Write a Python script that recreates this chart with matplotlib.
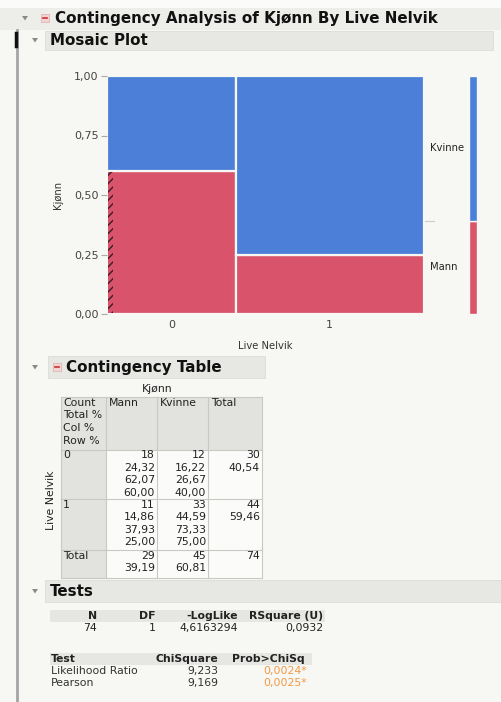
import numpy as np
import matplotlib
matplotlib.use("Agg")
import matplotlib.pyplot as plt
from matplotlib.patches import Rectangle, Polygon
from matplotlib.transforms import blended_transform_factory

plt.rcParams["font.family"] = ["DejaVu Sans"]

live_levels = ["0", "1"]
kjonn_levels = ["Mann", "Kvinne"]
counts_mann = [18, 11]
counts_kvinne = [12, 33]
y_ticks = [0.0, 0.25, 0.50, 0.75, 1.00]

tests_n = 74
tests_df = 1
tests_loglike = 4.6163294
tests_rsquare = 0.0932
test_names = ["Likelihood Ratio", "Pearson"]
test_chisq = [9.233, 9.169]
test_pvals = [0.0024, 0.0025]

BLUE = "#4b7fd8"
RED = "#d9536a"
BG = "#f7f7f4"
BAR = "#e7e7e3"
GRID = "#c9c9c4"
TXT = "#222222"
W, H = 501, 702
HFS = 10.9   # section headers
FS = 7.8     # table text
TFS = 8.0    # axis text


def fmt(v, d):
    return f"{v:.{d}f}".replace(".", ",")


def box(px0, py0, px1, py1):
    return [px0 / W, 1 - py1 / H, (px1 - px0) / W, (py1 - py0) / H]


fig = plt.figure(figsize=(W / 100, H / 100), dpi=100, facecolor=BG)
bg = fig.add_axes([0, 0, 1, 1])
bg.set_xlim(0, W)
bg.set_ylim(H, 0)
bg.axis("off")


def triangle(x, y):
    bg.add_patch(Polygon([(x - 3, y - 2), (x + 3, y - 2), (x, y + 2.5)],
                         closed=True, color="#8a8a8a", lw=0))


def redbox(x, y):
    bg.add_patch(Rectangle((x - 4, y - 4), 8, 8, facecolor="#f3d3d3",
                           edgecolor="#e0b5b5", lw=0.6))
    bg.plot([x - 2, x + 2], [y, y], color="#d03030", lw=1.2)


def header(x0, x1, y0, y1, text, tx, ty):
    bg.add_patch(Rectangle((x0, y0), x1 - x0, y1 - y0, facecolor=BAR,
                           edgecolor="#dcdcd8", lw=0.6))
    bg.text(tx, ty, text, fontsize=HFS, fontweight="bold", color="#111111",
            va="center", ha="left")


# frame pieces
bg.add_patch(Rectangle((0, 0), W, 8, facecolor="#fbfbfa", lw=0))
bg.add_patch(Rectangle((0, 8), W, 22, facecolor="#ededea", lw=0))
bg.plot([17, 17], [30, H], color="#a5a5a5", lw=2)
bg.plot([16, 16], [33, 46], color="#111111", lw=2.5)

triangle(25, 18)
redbox(45, 18)
bg.text(55, 18.5, "Contingency Analysis of Kjønn By Live Nelvik", fontsize=HFS,
        fontweight="bold", color="#111111", va="center", ha="left")

triangle(35, 40)
header(45, 493, 31, 50, "Mosaic Plot", 50, 40.5)

# --- mosaic plot ---
totals = np.array(counts_mann) + np.array(counts_kvinne)
col_w = totals / totals.sum()
col_x = np.concatenate([[0], np.cumsum(col_w)[:-1]])
mann_p = np.array(counts_mann) / totals

ax = fig.add_axes(box(107, 76, 424, 314))
ax.set_xlim(0, 1)
ax.set_ylim(0, 1)
ax.patch.set_visible(False)
ax.bar(col_x, mann_p, width=col_w, align="edge", color=RED,
       edgecolor=BG, lw=1.6)
ax.bar(col_x, 1 - mann_p, bottom=mann_p, width=col_w, align="edge",
       color=BLUE, edgecolor=BG, lw=1.6)
ax.add_patch(Rectangle((col_x[0] + 0.002, 0.003), 0.018, mann_p[0] - 0.006,
                       facecolor=RED, edgecolor="#3a1c26", hatch="////", lw=0))
for s in ax.spines.values():
    s.set_visible(False)
ax.set_yticks(y_ticks)
ax.set_yticklabels([fmt(t, 2) for t in y_ticks], fontsize=TFS, color="#444444")
ax.set_xticks(col_x + col_w / 2)
ax.set_xticklabels(live_levels, fontsize=TFS, color="#444444")
ax.tick_params(axis="both", length=4, color="#aaaaaa", pad=2)
ax.tick_params(axis="x", length=0, pad=4)
ax.set_ylabel("Kjønn", fontsize=7.2, color="#333333", labelpad=8)
ax.set_xlabel("Live Nelvik", fontsize=7.2, color="#333333", labelpad=8)

# marginal bar
marg_mann = sum(counts_mann) / totals.sum()
mx = fig.add_axes(box(469, 76, 477, 314))
mx.set_xlim(0, 1)
mx.set_ylim(0, 1)
mx.axis("off")
mx.bar([0], [marg_mann], width=1, align="edge", color=RED, edgecolor=BG, lw=1)
mx.bar([0], [1 - marg_mann], bottom=[marg_mann], width=1, align="edge",
       color=BLUE, edgecolor=BG, lw=1)
tr = blended_transform_factory(ax.transAxes, ax.transData)
ax.text(1.019, marg_mann / 2, kjonn_levels[0], transform=tr, fontsize=7.2,
        va="center", ha="left", color=TXT)
ax.text(1.019, marg_mann + (1 - marg_mann) / 2, kjonn_levels[1], transform=tr,
        fontsize=7.2, va="center", ha="left", color=TXT)
ax.plot([1.003, 1.03], [marg_mann, marg_mann], transform=tr, color="#cccccc",
        lw=0.8, clip_on=False)

# --- contingency table ---
triangle(35, 367)
bg.add_patch(Rectangle((48, 356), 217, 22, facecolor=BAR, edgecolor="#dcdcd8",
                       lw=0.6))
redbox(57, 367)
bg.text(66, 367.5, "Contingency Table", fontsize=HFS, fontweight="bold",
        color="#111111", va="center", ha="left")

cx = [61, 106, 157, 208, 262]
ry = [397, 450, 499, 550, 578]
bg.text((cx[1] + cx[3]) / 2, 389, "Kjønn", fontsize=FS, ha="center",
        va="center", color=TXT)
bg.text(51, (ry[1] + ry[3]) / 2, "Live Nelvik", fontsize=FS, rotation=90,
        ha="center", va="center", color=TXT)
# cell backgrounds
bg.add_patch(Rectangle((cx[0], ry[0]), cx[-1] - cx[0], ry[1] - ry[0],
                       facecolor="#e2e2de", lw=0))
bg.add_patch(Rectangle((cx[0], ry[1]), cx[1] - cx[0], ry[-1] - ry[1],
                       facecolor="#e2e2de", lw=0))
bg.add_patch(Rectangle((cx[1], ry[1]), cx[-1] - cx[1], ry[-1] - ry[1],
                       facecolor="#fbfbfa", lw=0))
for x in cx:
    bg.plot([x, x], [ry[0], ry[-1]], color=GRID, lw=0.8)
for y in ry:
    bg.plot([cx[0], cx[-1]], [y, y], color=GRID, lw=0.8)

lh = 12.5
for i, lab in enumerate(["Count", "Total %", "Col %", "Row %"]):
    bg.text(cx[0] + 2, ry[0] + 6 + i * lh, lab, fontsize=FS, va="center",
            color=TXT)
for j, lab in enumerate(kjonn_levels + ["Total"]):
    bg.text(cx[j + 1] + 3, ry[0] + 6, lab, fontsize=FS, va="center", color=TXT)

n_all = totals.sum()
rows = [[counts_mann[i], counts_kvinne[i]] for i in range(2)]
col_tot = [sum(counts_mann), sum(counts_kvinne)]
for i, lev in enumerate(live_levels):
    y0 = ry[i + 1] + 5.5
    bg.text(cx[0] + 2, y0, lev, fontsize=FS, va="center", color=TXT)
    for j in range(2):
        c = rows[i][j]
        vals = [str(c), fmt(100 * c / n_all, 2), fmt(100 * c / col_tot[j], 2),
                fmt(100 * c / totals[i], 2)]
        for k, v in enumerate(vals):
            bg.text(cx[j + 2] - 2, y0 + k * lh, v, fontsize=FS, va="center",
                    ha="right", color=TXT)
    bg.text(cx[4] - 2, y0, str(totals[i]), fontsize=FS, va="center",
            ha="right", color=TXT)
    bg.text(cx[4] - 2, y0 + lh, fmt(100 * totals[i] / n_all, 2), fontsize=FS,
            va="center", ha="right", color=TXT)
y0 = ry[3] + 6
bg.text(cx[0] + 2, y0, "Total", fontsize=FS, va="center", color=TXT)
for j in range(2):
    bg.text(cx[j + 2] - 2, y0, str(col_tot[j]), fontsize=FS, va="center",
            ha="right", color=TXT)
    bg.text(cx[j + 2] - 2, y0 + lh, fmt(100 * col_tot[j] / n_all, 2),
            fontsize=FS, va="center", ha="right", color=TXT)
bg.text(cx[4] - 2, y0, str(n_all), fontsize=FS, va="center", ha="right",
        color=TXT)

# --- tests ---
triangle(35, 591)
header(45, W + 5, 580, 602, "Tests", 50, 591.5)

bg.add_patch(Rectangle((50, 610), 275, 12, facecolor="#e6e6e2", lw=0))
heads1 = ["N", "DF", "-LogLike", "RSquare (U)"]
vals1 = [str(tests_n), str(tests_df), fmt(tests_loglike, 7), fmt(tests_rsquare, 4)]
rx1 = [97, 156, 238, 323]
for h, v, x in zip(heads1, vals1, rx1):
    bg.text(x, 616, h, fontsize=FS, fontweight="bold", ha="right", va="center",
            color=TXT)
    bg.text(x, 628, v, fontsize=FS, ha="right", va="center", color=TXT)

bg.add_patch(Rectangle((50, 653), 262, 12, facecolor="#e6e6e2", lw=0))
bg.text(51, 659, "Test", fontsize=FS, fontweight="bold", va="center", color=TXT)
bg.text(218, 659, "ChiSquare", fontsize=FS, fontweight="bold", ha="right",
        va="center", color=TXT)
bg.text(305, 659, "Prob>ChiSq", fontsize=FS, fontweight="bold", ha="right",
        va="center", color=TXT)
for i, name in enumerate(test_names):
    y = 671 + i * 12
    bg.text(51, y, name, fontsize=FS, va="center", color="#333333")
    bg.text(218, y, fmt(test_chisq[i], 3), fontsize=FS, ha="right",
            va="center", color="#333333")
    bg.text(307, y, fmt(test_pvals[i], 4) + "*", fontsize=FS, ha="right",
            va="center", color="#f09a45")

fig.savefig("out.png", dpi=100, facecolor=BG)
